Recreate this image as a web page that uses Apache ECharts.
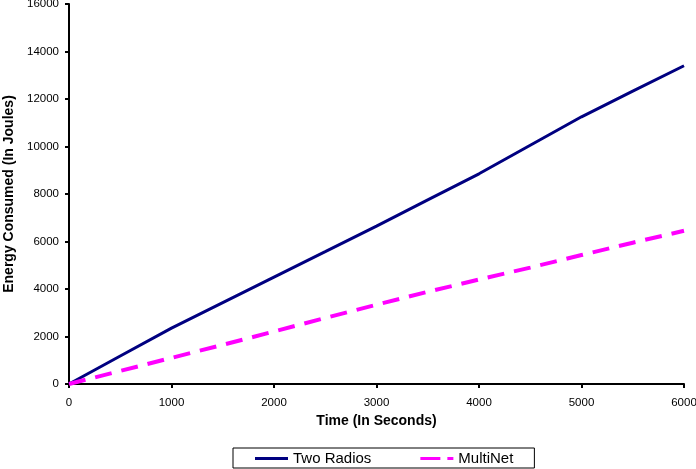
<!DOCTYPE html>
<html>
<head>
<meta charset="utf-8">
<script src="https://cdn.jsdelivr.net/npm/echarts@6/dist/echarts.min.js"></script>
<style>html,body{margin:0;padding:0;background:#fff}#c{width:696px;height:469px}</style>
</head>
<body>
<div id="c"></div>
<script>
var times = [0, 500, 1000, 1500, 2000, 2500, 3000, 3500, 4000, 4500, 5000, 5500, 6000];
var twoRadios = [0, 1180, 2350, 3430, 4500, 5570, 6650, 7750, 8850, 10050, 11250, 12330, 13400];
var multiNet = [0, 550, 1100, 1650, 2210, 2780, 3340, 3880, 4400, 4900, 5430, 5950, 6450];
var xTicks = [0, 1000, 2000, 3000, 4000, 5000, 6000];
var yTicks = [0, 2000, 4000, 6000, 8000, 10000, 12000, 14000, 16000];

function pairs(xs, ys) { return xs.map(function (x, i) { return [x, ys[i]]; }); }
function plain(v) { return String(v); }

var font = 'Liberation Sans, Arial, Helvetica, sans-serif';
var chart = echarts.init(document.getElementById('c'), null, {renderer: 'canvas'});
chart.setOption({
  animation: false,
  backgroundColor: '#fff',
  textStyle: {fontFamily: font, color: '#000'},
  grid: {left: 69, right: 12, top: 4, bottom: 85, containLabel: false, outerBoundsMode: 'none'},
  xAxis: {
    type: 'value', min: xTicks[0], max: xTicks[xTicks.length - 1], interval: 1000,
    name: 'Time (In Seconds)', nameLocation: 'middle', nameGap: 30,
    nameTextStyle: {fontFamily: font, fontWeight: 'bold', fontSize: 14, color: '#000'},
    axisLine: {lineStyle: {color: '#000', width: 2}},
    axisTick: {length: 4, lineStyle: {color: '#000', width: 2}},
    axisLabel: {fontFamily: font, fontSize: 11.5, color: '#000', margin: 13, formatter: plain},
    splitLine: {show: false}
  },
  yAxis: {
    type: 'value', min: yTicks[0], max: yTicks[yTicks.length - 1], interval: 2000,
    name: 'Energy Consumed (In Joules)', nameLocation: 'middle', nameGap: 53, nameRotate: 90,
    nameTextStyle: {fontFamily: font, fontWeight: 'bold', fontSize: 14, color: '#000'},
    axisLine: {show: true, lineStyle: {color: '#000', width: 2}},
    axisTick: {show: true, length: 4, lineStyle: {color: '#000', width: 2}},
    axisLabel: {fontFamily: font, fontSize: 11.5, color: '#000', margin: 10, formatter: plain},
    splitLine: {show: false}
  },
  legend: {
    left: 233, top: 448,
    orient: 'horizontal',
    borderColor: '#000', borderWidth: 1, borderRadius: 0,
    padding: [3, 21, 2, 22],
    itemWidth: 33, itemHeight: 14, itemGap: 49,
    textStyle: {fontFamily: font, fontSize: 15, color: '#000', padding: [0, 0, 0, 0]},
    data: [
      {name: 'Two Radios', icon: 'path://M0,0 L33,0 L33,3 L0,3 Z', itemStyle: {color: '#000080'}},
      {name: 'MultiNet', icon: 'path://M0,0 L20,0 L20,3 L0,3 Z M27,0 L33,0 L33,3 L27,3 Z', itemStyle: {color: '#ff00ff'}}
    ]
  },
  series: [
    {
      name: 'Two Radios', type: 'line', data: pairs(times, twoRadios),
      showSymbol: false, symbol: 'none', smooth: false,
      lineStyle: {color: '#000080', width: 3},
      itemStyle: {color: '#000080'}
    },
    {
      name: 'MultiNet', type: 'line', data: pairs(times, multiNet),
      showSymbol: false, symbol: 'none', smooth: false,
      lineStyle: {color: '#ff00ff', width: 4, type: [17, 10]},
      itemStyle: {color: '#ff00ff'}
    }
  ]
});
</script>
</body>
</html>
